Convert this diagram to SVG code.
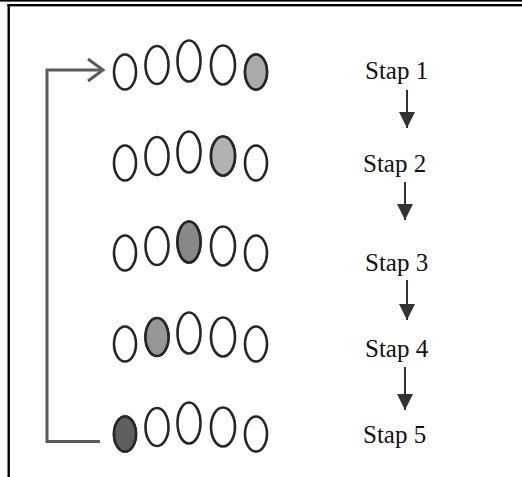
<svg xmlns="http://www.w3.org/2000/svg" width="522" height="477" viewBox="0 0 522 477">
  <style>
    .bead { fill: #ffffff; stroke: #262626; stroke-width: 2.6; }
    .label { font-family: "Liberation Serif", "Times New Roman", serif; font-size: 25px; fill: #111111; }
    .loop { fill: none; stroke: #5a5a5a; stroke-width: 3; stroke-linejoin: miter; }
    .step { stroke: #333333; stroke-width: 2; }
  </style>
  <defs>
    <marker id="head" markerWidth="17" markerHeight="16" refX="16" refY="8" orient="auto" markerUnits="userSpaceOnUse">
      <path d="M0,0 L16,8 L0,16 Z" fill="#333333"/>
    </marker>
    <!-- one row of five beads, centred on the first bead's baseline -->
    <g id="beads">
      <ellipse class="bead" cx="125" cy="0" rx="11" ry="17.5"/>
      <ellipse class="bead" cx="157" cy="-7" rx="11.5" ry="19"/>
      <ellipse class="bead" cx="189" cy="-11" rx="11.5" ry="20.5"/>
      <ellipse class="bead" cx="223" cy="-7" rx="12" ry="19.5"/>
      <ellipse class="bead" cx="256" cy="0" rx="11" ry="17.5"/>
    </g>
  </defs>

  <rect width="522" height="477" fill="#ffffff"/>

  <!-- frame -->
  <rect x="0" y="0" width="522" height="1.6" fill="#000000"/>
  <rect x="7.5" y="4" width="514.5" height="2.4" fill="#000000"/>
  <rect x="7.5" y="4" width="2.4" height="473" fill="#000000"/>

  <!-- bead rows: one highlighted bead per step -->
  <g id="row1" transform="translate(0,72)">
    <use href="#beads"/>
    <ellipse class="bead" cx="256" cy="0" rx="11" ry="17.5" fill="#a9a9a9" style="fill:#a9a9a9"/>
  </g>
  <g id="row2" transform="translate(0,163)">
    <use href="#beads"/>
    <ellipse class="bead" cx="223" cy="-7" rx="12" ry="19.5" style="fill:#b2b2b2"/>
  </g>
  <g id="row3" transform="translate(0,253)">
    <use href="#beads"/>
    <ellipse class="bead" cx="189" cy="-11" rx="11.5" ry="20.5" style="fill:#888888"/>
  </g>
  <g id="row4" transform="translate(0,344)">
    <use href="#beads"/>
    <ellipse class="bead" cx="157" cy="-7" rx="11.5" ry="19" style="fill:#969696"/>
  </g>
  <g id="row5" transform="translate(0,434)">
    <use href="#beads"/>
    <ellipse class="bead" cx="125" cy="0" rx="11" ry="17.5" style="fill:#5e5e5e"/>
  </g>

  <!-- step labels -->
  <g id="stap1"><text class="label" x="365" y="79">Stap 1</text></g>
  <g id="stap2"><text class="label" x="363" y="172">Stap 2</text></g>
  <g id="stap3"><text class="label" x="365" y="271">Stap 3</text></g>
  <g id="stap4"><text class="label" x="365" y="357">Stap 4</text></g>
  <g id="stap5"><text class="label" x="363" y="443">Stap 5</text></g>

  <!-- connectors -->
  <g id="connectors">
    <path class="loop" d="M100,441.5 H47 V70 H102"/>
    <path class="loop" d="M88,59 L103,70 L88,81"/>
    <line class="step" x1="407" y1="90" x2="407" y2="128" marker-end="url(#head)"/>
    <line class="step" x1="405" y1="182" x2="405" y2="220" marker-end="url(#head)"/>
    <line class="step" x1="407" y1="280" x2="407" y2="320" marker-end="url(#head)"/>
    <line class="step" x1="405" y1="367" x2="405" y2="410" marker-end="url(#head)"/>
  </g>
</svg>
